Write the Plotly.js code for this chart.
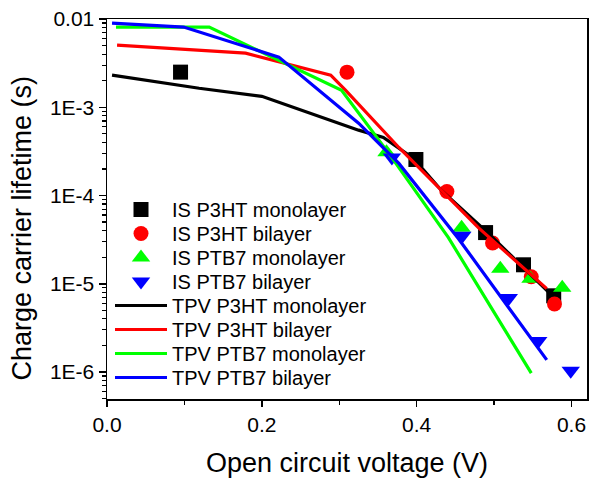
<!DOCTYPE html>
<html><head><meta charset="utf-8">
<script src="https://cdn.plot.ly/plotly-3.0.1.min.js"></script>
<style>html,body{margin:0;padding:0;background:#fff}#chart{width:589px;height:478px}</style>
</head><body><div id="chart"></div>
<script>
// IS (impedance spectroscopy) points
const isP3HTmonoX = [0.095, 0.399, 0.489, 0.538, 0.577];
const isP3HTmonoY = [2.5e-3, 2.56e-4, 3.8e-5, 1.64e-5, 7.3e-6];
const isP3HTbiX = [0.310, 0.439, 0.498, 0.548, 0.578];
const isP3HTbiY = [2.5e-3, 1.11e-4, 2.9e-5, 1.2e-5, 5.9e-6];
const isPTB7monoX = [0.361, 0.458, 0.508, 0.547, 0.588];
const isPTB7monoY = [3.1e-4, 4.3e-5, 1.48e-5, 1.14e-5, 9.0e-6];
const isPTB7biX = [0.368, 0.459, 0.519, 0.557, 0.599];
const isPTB7biY = [2.7e-4, 3.5e-5, 6.9e-6, 2.25e-6, 1.03e-6];
// TPV lines
const tpvP3HTmonoX = [0.0065, 0.119, 0.2, 0.325, 0.357, 0.396, 0.432, 0.493, 0.570];
const tpvP3HTmonoY = [2.31e-3, 1.64e-3, 1.33e-3, 5.5e-4, 4.56e-4, 2.63e-4, 1.14e-4, 3.7e-5, 8.1e-6];
const tpvP3HTbiX = [0.013, 0.179, 0.289, 0.308, 0.377, 0.48, 0.568];
const tpvP3HTbiY = [5.07e-3, 4.1e-3, 2.31e-3, 1.56e-3, 3.5e-4, 4.3e-5, 8.8e-6];
const tpvPTB7monoX = [0.0116, 0.132, 0.303, 0.364, 0.441, 0.548];
const tpvPTB7monoY = [8.1e-3, 8.1e-3, 1.56e-3, 3.0e-4, 3.33e-5, 9.7e-7];
const tpvPTB7biX = [0.0065, 0.099, 0.222, 0.325, 0.377, 0.454, 0.568];
const tpvPTB7biY = [9.0e-3, 8.1e-3, 3.7e-3, 6.6e-4, 2.31e-4, 3.24e-5, 1.37e-6];

const seriesNames = ['IS P3HT monolayer', 'IS P3HT bilayer', 'IS PTB7 monolayer', 'IS PTB7 bilayer',
  'TPV P3HT monolayer', 'TPV P3HT bilayer', 'TPV PTB7 monolayer', 'TPV PTB7 bilayer'];

const xTickVals = [0, 0.2, 0.4, 0.6];
const xTickText = ['0.0', '0.2', '0.4', '0.6'];
const yTickVals = [1e-6, 1e-5, 1e-4, 1e-3, 1e-2];
const yTickText = ['1E-6', '1E-5', '1E-4', '1E-3', '0.01'];

const FONT = 'Liberation Sans, Arial, sans-serif';
const PLOT_L = 107, PLOT_T = 19, PLOT_W = 480, PLOT_H = 380;
const LEG_LEFT = 110, LEG_FIRST = 208, LEG_STEP = 24, LEG_OFF = 18;

function legName(i) { return i === 0 ? 'legend' : 'legend' + (i + 1); }

function pts(i, x, y, symbol, color, size) {
  return {type: 'scatter', mode: 'markers', name: seriesNames[i], x, y, legend: legName(i),
    marker: {symbol, color, size, line: {width: 0}}};
}
function line(i, x, y, color) {
  return {type: 'scatter', mode: 'lines', name: seriesNames[i], x, y, legend: legName(i),
    line: {color, width: 3.2}};
}

const data = [
  pts(0, isP3HTmonoX, isP3HTmonoY, 'square', '#000000', 15),
  pts(1, isP3HTbiX, isP3HTbiY, 'circle', '#ff0000', 15),
  pts(2, isPTB7monoX, isPTB7monoY, 'triangle-up', '#00ff00', 16),
  pts(3, isPTB7biX, isPTB7biY, 'triangle-down', '#0000ff', 16),
  line(4, tpvP3HTmonoX, tpvP3HTmonoY, '#000000'),
  line(5, tpvP3HTbiX, tpvP3HTbiY, '#ff0000'),
  line(6, tpvPTB7monoX, tpvPTB7monoY, '#00ff00'),
  line(7, tpvPTB7biX, tpvPTB7biY, '#0000ff')
];

const layout = {
  width: 589, height: 478,
  margin: {l: PLOT_L, r: 2, t: PLOT_T, b: 79},
  paper_bgcolor: '#ffffff', plot_bgcolor: '#ffffff',
  font: {family: FONT, color: '#000000'},
  showlegend: true,
  xaxis: {
    range: [0, 0.62], tickmode: 'array', tickvals: xTickVals, ticktext: xTickText,
    ticks: 'outside', ticklen: 6, tickwidth: 1.5, tickcolor: '#000',
    showline: true, linewidth: 1.5, linecolor: '#000', mirror: true,
    showgrid: false, zeroline: false,
    tickfont: {size: 21, family: FONT},
    minor: {tickmode: 'linear', tick0: 0, dtick: 0.1, ticks: 'outside', ticklen: 4, tickwidth: 1.5, tickcolor: '#000', showgrid: false},
    title: {text: 'Open circuit voltage (V)', font: {size: 27, family: FONT}, standoff: 18}
  },
  yaxis: {
    type: 'log', range: [-6.306, -2], tickmode: 'array', tickvals: yTickVals, ticktext: yTickText,
    ticks: 'outside', ticklen: 7, tickwidth: 1.5, tickcolor: '#000',
    showline: true, linewidth: 1.5, linecolor: '#000', mirror: true,
    showgrid: false, zeroline: false,
    tickfont: {size: 21, family: FONT},
    minor: {dtick: 'D1', ticks: 'outside', ticklen: 4, tickwidth: 1.2, tickcolor: '#000', showgrid: false}
  },
  annotations: [{
    text: 'Charge carrier lifetime (s)', textangle: -90,
    xref: 'paper', yref: 'paper', x: (21 - PLOT_L) / PLOT_W, y: (PLOT_T + PLOT_H - 228.5) / PLOT_H,
    xanchor: 'center', yanchor: 'middle', showarrow: false,
    font: {size: 27, family: FONT, color: '#000'}
  }]
};

for (let i = 0; i < seriesNames.length; i++) {
  const top = LEG_FIRST + i * LEG_STEP - LEG_OFF;
  layout[legName(i)] = {
    x: (LEG_LEFT - PLOT_L) / PLOT_W, y: (PLOT_T + PLOT_H - top) / PLOT_H,
    xanchor: 'left', yanchor: 'top', bgcolor: 'rgba(0,0,0,0)', borderwidth: 0,
    font: {size: 20, family: FONT, color: '#000'}, itemwidth: 52
  };
}

Plotly.newPlot('chart', data, layout, {displayModeBar: false, staticPlot: true});
</script>
</body></html>
